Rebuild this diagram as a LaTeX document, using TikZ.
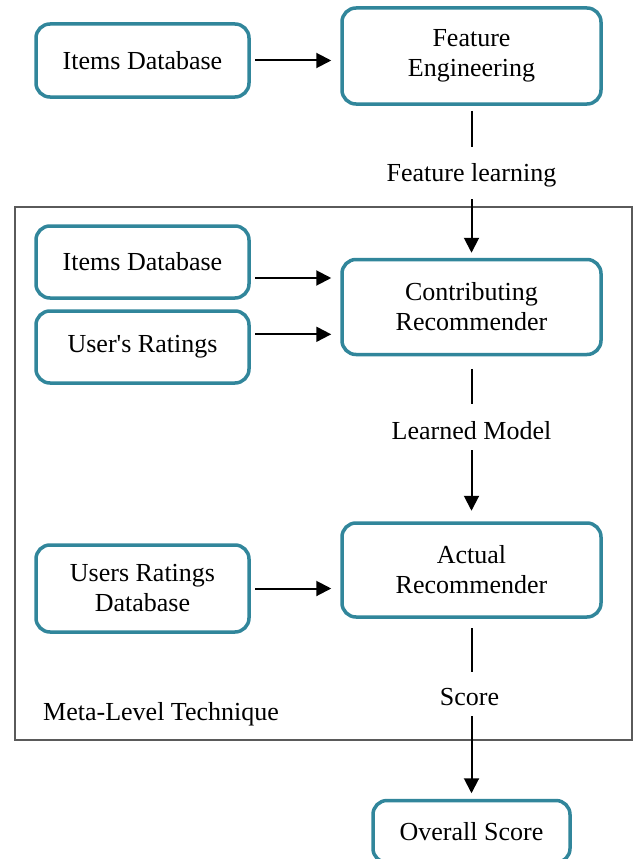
\documentclass[tikz,border=0pt]{standalone}
\usepackage{fontspec}
\setmainfont{Liberation Serif}
\newfontfamily\rawserif{Liberation Serif}
\usetikzlibrary{arrows.meta}
\definecolor{teal1}{RGB}{49,134,155}
\definecolor{frame1}{RGB}{90,90,90}
\begin{document}
\begin{tikzpicture}[x=1pt,y=-1pt,
  every node/.style={font=\fontsize{26}{30}\selectfont},
  box/.style={draw=teal1, line width=3.5pt, rounded corners=14pt, fill=white, align=center, inner sep=0pt},
  lbl/.style={inner sep=0pt, text height=18pt, text depth=6pt, anchor=base},
  arr/.style={line width=2pt, -{Triangle[length=15pt,width=15pt]}},
  ln/.style={line width=2pt},
  frm/.style={draw=frame1, line width=1.1pt, inner sep=0pt}]
\useasboundingbox (0,0) rectangle (637,859);
% frame
\node[frm, minimum width=617pt, minimum height=533pt] (meta) at (323.5,473.5) {};
\node[anchor=base west, inner sep=0pt] (metalbl) at (43,720) {Meta-Level Technique};
% boxes
\node[box, minimum width=213pt, minimum height=73pt] (id1) at (142.5,60.5) {Items Database};
\node[box, minimum width=259pt, minimum height=96pt] (fe) at (471.5,56) {Feature\\Engineering};
\node[box, minimum width=213pt, minimum height=72pt] (id2) at (142.5,262) {Items Database};
\node[box, minimum width=213pt, minimum height=72pt] (ur) at (142.5,347) {{\rawserif User's Ratings}};
\node[box, minimum width=259pt, minimum height=95pt] (cr) at (471.5,307) {Contributing\\Recommender};
\node[box, minimum width=213pt, minimum height=87pt] (urdb) at (142.5,588.5) {Users Ratings\\Database};
\node[box, minimum width=259pt, minimum height=94pt] (ar) at (471.5,570) {Actual\\Recommender};
\node[box, minimum width=197pt, minimum height=62pt] (os) at (471.5,831.5) {Overall Score};
% labels
\node[lbl] (fl) at (471.5,181) {Feature learning};
\node[lbl] (lm) at (471.5,439) {Learned Model};
\node[lbl] (sc) at (469.5,705) {Score};
% horizontal connectors
\coordinate (a0) at (id1.east);
\draw[arr, shorten <=4.5pt, shorten >=9pt] (a0) -- (a0 -| fe.west);
\coordinate (a1) at ([yshift=-16pt]id2.east);
\draw[arr, shorten <=4.5pt, shorten >=9pt] (a1) -- (a1 -| cr.west);
\coordinate (a2) at ([yshift=12.7pt]ur.east);
\draw[arr, shorten <=4.5pt, shorten >=9pt] (a2) -- (a2 -| cr.west);
\coordinate (a3) at (urdb.east);
\draw[arr, shorten <=4.5pt, shorten >=9pt] (a3) -- (a3 -| ar.west);
% vertical connectors
\draw[ln, shorten <=5pt, shorten >=16.3pt] (fe.south) -- (fl.north);
\draw[arr, shorten <=12pt, shorten >=5pt] (fl.south) -- (cr.north);
\draw[ln, shorten <=12.5pt, shorten >=17pt] (cr.south) -- (lm.north);
\draw[arr, shorten <=5pt, shorten >=10.5pt] (lm.south) -- (ar.north);
\draw[ln, shorten <=9.5pt, shorten >=15.3pt] (ar.south) -- (sc.north -| ar.south);
\draw[arr, shorten <=5pt, shorten >=5.5pt] (sc.south -| os.north) -- (os.north);
\end{tikzpicture}
\end{document}
